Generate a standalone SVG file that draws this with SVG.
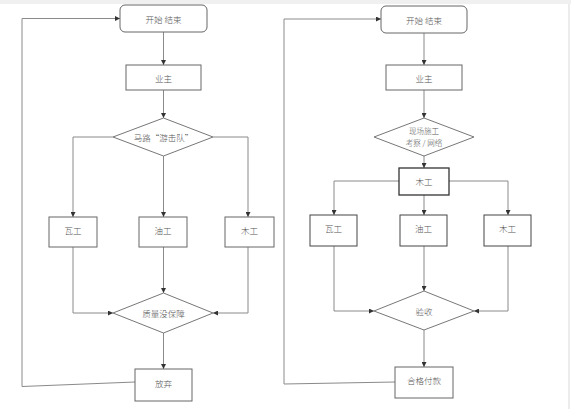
<svg xmlns="http://www.w3.org/2000/svg" width="571" height="409" viewBox="0 0 571 409">
<style>
.box{fill:#fff;stroke:#666;stroke-width:1}
.dia{fill:#fff;stroke:#777;stroke-width:1}
.ln{fill:none;stroke:#8a8a8a;stroke-width:1}
.t{font-family:"Noto Sans CJK SC","Noto Sans CJK JP",sans-serif;font-size:8.5px;font-weight:300;fill:#555;text-anchor:middle;dominant-baseline:central}
</style>
<defs>
<marker id="ar" viewBox="0 0 6 6" refX="6" refY="3" markerWidth="5" markerHeight="5" orient="auto" markerUnits="userSpaceOnUse">
<path d="M0,0 L6,3 L0,6 Z" fill="#333"/>
</marker>
</defs>
<rect x="0" y="0" width="571" height="409" fill="#fff"/>
<rect x="0" y="0" width="571" height="4" fill="#f0f0f0"/>
<line x1="569" y1="4" x2="569" y2="409" stroke="#e6e6e6" stroke-width="1.5"/>

<g id="connectors">
<path class="ln" d="M163.5,32 V65" marker-end="url(#ar)"/>
<path class="ln" d="M163.5,90 V118" marker-end="url(#ar)"/>
<path class="ln" d="M113,137 H73 V217" marker-end="url(#ar)"/>
<path class="ln" d="M163.5,156 V217" marker-end="url(#ar)"/>
<path class="ln" d="M213,137 H248 V217" marker-end="url(#ar)"/>
<path class="ln" d="M73,247 V313 H113" marker-end="url(#ar)"/>
<path class="ln" d="M163.5,247 V293" marker-end="url(#ar)"/>
<path class="ln" d="M248,247 V313 H213" marker-end="url(#ar)"/>
<path class="ln" d="M163.5,333 V369" marker-end="url(#ar)"/>
<path class="ln" d="M135,382 L22,386.5 V18.5 H120" marker-end="url(#ar)"/>
<path class="ln" d="M424,33 V65" marker-end="url(#ar)"/>
<path class="ln" d="M424,90 V118" marker-end="url(#ar)"/>
<path class="ln" d="M424,156 V168" marker-end="url(#ar)"/>
<path class="ln" d="M399,181 H334 V215" marker-end="url(#ar)"/>
<path class="ln" d="M449,181 H508 V215" marker-end="url(#ar)"/>
<path class="ln" d="M424,195 V215" marker-end="url(#ar)"/>
<path class="ln" d="M334,246 V311 H374" marker-end="url(#ar)"/>
<path class="ln" d="M424,246 V291" marker-end="url(#ar)"/>
<path class="ln" d="M508,246 V311 H474" marker-end="url(#ar)"/>
<path class="ln" d="M424,330 V367" marker-end="url(#ar)"/>
<path class="ln" d="M395,382 L284,384 V19 H381" marker-end="url(#ar)"/>
</g>

<g id="L-start"><rect class="box" x="120" y="5" width="87" height="27" rx="5"/><text class="t" x="163.5" y="19">开始 结束</text></g>
<g id="L-owner"><rect class="box" x="126" y="65" width="75" height="25"/><text class="t" x="163.5" y="77.5">业主</text></g>
<g id="L-dec1"><polygon class="dia" points="163.5,118 213,137 163.5,156 113,137"/><text class="t" x="163.5" y="137">马路“游击队”</text></g>
<g id="L-wa"><rect class="box" x="49" y="217" width="48" height="30"/><text class="t" x="73" y="230">瓦工</text></g>
<g id="L-you"><rect class="box" x="139" y="217" width="48" height="30"/><text class="t" x="163" y="230">油工</text></g>
<g id="L-mu"><rect class="box" x="225" y="217" width="49" height="30"/><text class="t" x="249.5" y="230">木工</text></g>
<g id="L-dec2"><polygon class="dia" points="163.5,293 213,313 163.5,333 113,313"/><text class="t" x="163.5" y="313">质量没保障</text></g>
<g id="L-end"><rect class="box" x="135" y="369" width="57" height="32"/><text class="t" x="163.5" y="383">放弃</text></g>

<g id="R-start"><rect class="box" x="381" y="6" width="86" height="27" rx="5"/><text class="t" x="424" y="20">开始 结束</text></g>
<g id="R-owner"><rect class="box" x="386" y="65" width="76" height="25"/><text class="t" x="424" y="77.5">业主</text></g>
<g id="R-dec1"><polygon class="dia" points="424,118 474,137 424,156 374,137"/><text class="t" x="424" y="130" style="font-size:7.5px">现场施工</text><text class="t" x="424" y="142" style="font-size:7.5px">考察 / 网络</text></g>
<g id="R-mu0"><rect class="box" x="399" y="168" width="50" height="27" style="stroke:#333;stroke-width:1.3"/><text class="t" x="424" y="181">木工</text></g>
<g id="R-wa"><rect class="box" x="310" y="215" width="47" height="31" style="stroke:#444"/><text class="t" x="333.5" y="228">瓦工</text></g>
<g id="R-you"><rect class="box" x="400" y="215" width="47" height="31" style="stroke:#444"/><text class="t" x="423.5" y="228">油工</text></g>
<g id="R-mu"><rect class="box" x="484" y="215" width="47" height="31" style="stroke:#444"/><text class="t" x="507.5" y="228">木工</text></g>
<g id="R-dec2"><polygon class="dia" points="424,291 474,311 424,330 374,311"/><text class="t" x="424" y="311">验收</text></g>
<g id="R-end"><rect class="box" x="395" y="367" width="58" height="31"/><text class="t" x="424" y="380">合格付款</text></g>
</svg>
